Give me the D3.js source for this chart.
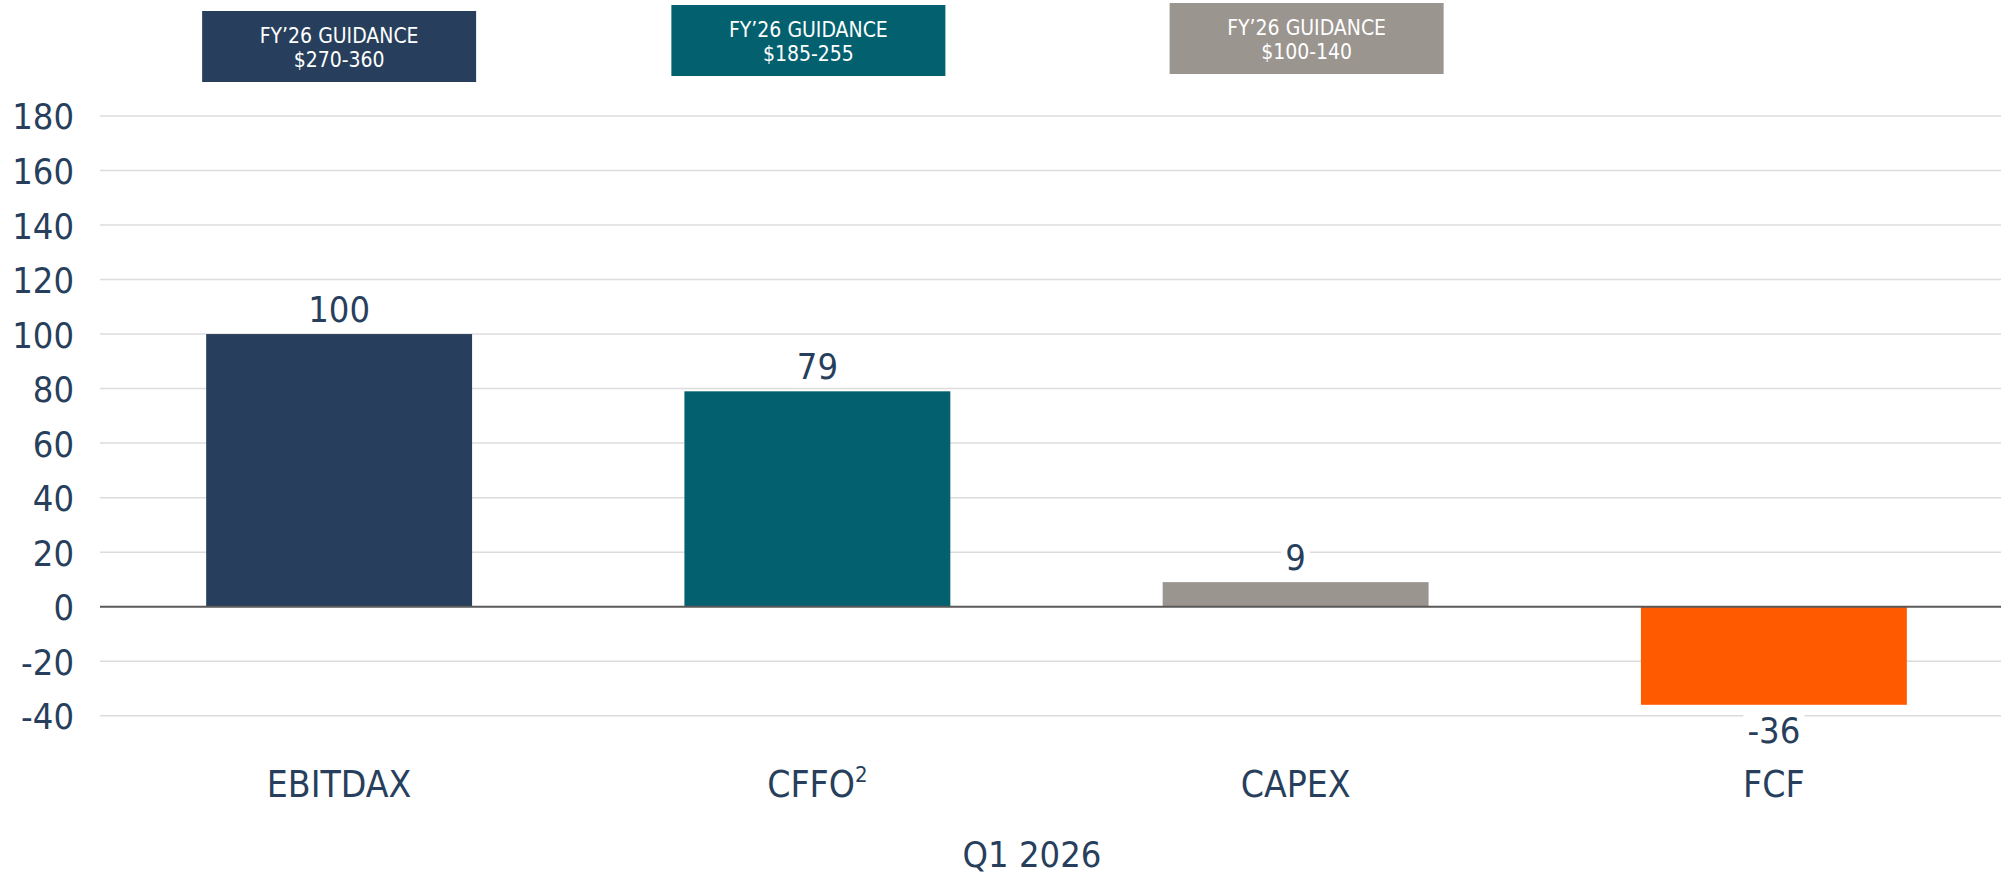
<!DOCTYPE html>
<html>
<head>
<meta charset="utf-8">
<script src="https://cdn.jsdelivr.net/npm/d3@7"></script>
<style>
  body { margin: 0; background: #fff; }
  text { font-family: "DejaVu Sans Condensed", "DejaVu Sans", sans-serif; font-stretch: condensed; }
</style>
</head>
<body>
<svg id="chart"></svg>
<script>
// values ($MM)
var categories = ["EBITDAX", "CFFO", "CAPEX", "FCF"];
var values = [100, 79, 9, -36];
var superscripts = ["", "2", "", ""];
var barColors = ["#273f5c", "#03616f", "#9b9590", "#ff5a00"];
var guidanceLabels = ["FY\u201926 GUIDANCE", "FY\u201926 GUIDANCE", "FY\u201926 GUIDANCE"];
var guidanceRanges = ["$270-360", "$185-255", "$100-140"];
var yTicks = [-40, -20, 0, 20, 40, 60, 80, 100, 120, 140, 160, 180];
var periodLabel = "Q1 2026";

var width = 2001, height = 875;
var textColor = "#273f5c";

var svg = d3.select("#chart")
    .attr("width", width)
    .attr("height", height);

var x = d3.scaleBand()
    .domain(categories)
    .range([100, 2013])
    .paddingInner(0.444)
    .paddingOuter(0.222);

var y = d3.scaleLinear()
    .domain([-40, 180])
    .range([715.7, 116]);

// gridlines
svg.append("g")
    .selectAll("line")
    .data(yTicks.filter(function (d) { return d !== 0; }))
    .enter()
    .append("line")
    .attr("x1", 100)
    .attr("x2", width)
    .attr("y1", function (d) { return y(d); })
    .attr("y2", function (d) { return y(d); })
    .attr("stroke", "#dcdcdc")
    .attr("stroke-width", 1.5);

// y axis labels (plain hyphen for negatives, like the slide)
var yAxis = d3.axisLeft(y)
    .tickValues(yTicks)
    .tickFormat(function (d) { return String(d); })
    .tickSize(0)
    .tickPadding(0);

var yg = svg.append("g")
    .attr("transform", "translate(74,0)")
    .call(yAxis);
yg.select(".domain").remove();
yg.selectAll("text")
    .attr("font-size", 36)
    .attr("fill", textColor)
    .attr("dy", "0.36em")
    .style("font-family", '"DejaVu Sans Condensed", "DejaVu Sans", sans-serif');

// bars
svg.append("g")
    .selectAll("rect")
    .data(values)
    .enter()
    .append("rect")
    .attr("x", function (d, i) { return x(categories[i]); })
    .attr("width", x.bandwidth())
    .attr("y", function (d) { return Math.min(y(d), y(0)); })
    .attr("height", function (d) { return Math.abs(y(d) - y(0)); })
    .attr("fill", function (d, i) { return barColors[i]; });

// zero line
svg.append("line")
    .attr("x1", 100)
    .attr("x2", width)
    .attr("y1", y(0))
    .attr("y2", y(0))
    .attr("stroke", "#595959")
    .attr("stroke-width", 2);

// value labels, with white backing like the original
var labels = svg.append("g")
    .selectAll("g")
    .data(values)
    .enter()
    .append("g")
    .attr("transform", function (d, i) {
        var cx = x(categories[i]) + x.bandwidth() / 2;
        var by = d >= 0 ? y(d) - 12 : y(d) + 38;
        return "translate(" + cx + "," + by + ")";
    });

labels.append("text")
    .attr("text-anchor", "middle")
    .attr("font-size", 36)
    .attr("fill", textColor)
    .text(function (d) { return d; });

labels.each(function () {
    var g = d3.select(this);
    var bb = g.select("text").node().getBBox();
    g.insert("rect", "text")
        .attr("x", bb.x - 4)
        .attr("y", bb.y)
        .attr("width", bb.width + 8)
        .attr("height", bb.height)
        .attr("fill", "#fff");
});

// category labels
var cats = svg.append("g")
    .selectAll("text")
    .data(categories)
    .enter()
    .append("text")
    .attr("x", function (d) { return x(d) + x.bandwidth() / 2; })
    .attr("y", 796.7)
    .attr("text-anchor", "middle")
    .attr("font-size", 37)
    .attr("fill", textColor);

cats.append("tspan").text(function (d) { return d; });
cats.filter(function (d, i) { return superscripts[i] !== ""; })
    .append("tspan")
    .attr("font-size", 22)
    .attr("dy", -15)
    .text(function (d) { return superscripts[categories.indexOf(d)]; });

// period label
svg.append("text")
    .attr("x", 1032)
    .attr("y", 866.7)
    .attr("text-anchor", "middle")
    .attr("font-size", 36)
    .attr("fill", textColor)
    .text(periodLabel);

// guidance boxes above first three bars
var boxTops = [11, 5, 3];
var boxNudge = [0, -9, 11];
var boxW = 274, boxH = 71;

var boxes = svg.append("g")
    .selectAll("g")
    .data(guidanceRanges)
    .enter()
    .append("g")
    .attr("transform", function (d, i) {
        var cx = x(categories[i]) + x.bandwidth() / 2 + boxNudge[i];
        return "translate(" + (cx - boxW / 2) + "," + boxTops[i] + ")";
    });

boxes.append("rect")
    .attr("width", boxW)
    .attr("height", boxH)
    .attr("fill", function (d, i) { return barColors[i]; });

boxes.append("text")
    .attr("x", boxW / 2)
    .attr("y", 31.5)
    .attr("text-anchor", "middle")
    .attr("font-size", 21)
    .attr("fill", "#fff")
    .text(function (d, i) { return guidanceLabels[i]; });

boxes.append("text")
    .attr("x", boxW / 2)
    .attr("y", 55.5)
    .attr("text-anchor", "middle")
    .attr("font-size", 21)
    .attr("fill", "#fff")
    .text(function (d) { return d; });
</script>
</body>
</html>
